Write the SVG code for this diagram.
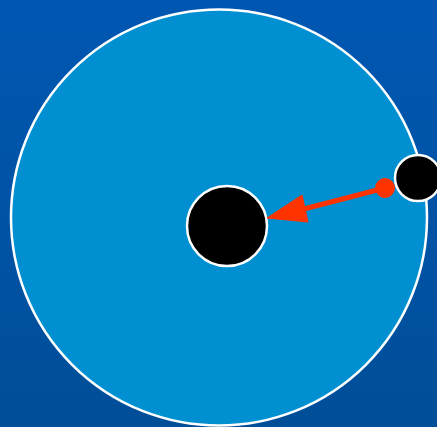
<svg xmlns="http://www.w3.org/2000/svg" width="437" height="427" viewBox="0 0 437 427">
<defs>
<linearGradient id="bg" x1="0" y1="0" x2="0" y2="1">
<stop offset="0" stop-color="#0057b2"/>
<stop offset="1" stop-color="#004e98"/>
</linearGradient>
<style>
.body{stroke:#ffffff;stroke-width:2.5}
.dark{fill:#000000}
.conn{stroke:#ff3300;fill:#ff3300}
</style>
</defs>
<rect x="0" y="0" width="437" height="427" fill="url(#bg)"/>
<g id="orbit">
<circle cx="219" cy="217.5" r="208" fill="#0090d2" class="body"/>
</g>
<g id="center">
<circle cx="227" cy="226" r="40" class="body dark"/>
</g>
<g id="satellite">
<circle cx="418" cy="178" r="23" class="body dark"/>
</g>
<g id="connectors">
<line x1="385" y1="188" x2="300" y2="210" class="conn" stroke-width="5"/>
<circle cx="385" cy="188" r="9.5" class="conn" stroke="none"/>
<polygon points="267,218 302,195 308,222" class="conn" stroke="none"/>
</g>
</svg>
